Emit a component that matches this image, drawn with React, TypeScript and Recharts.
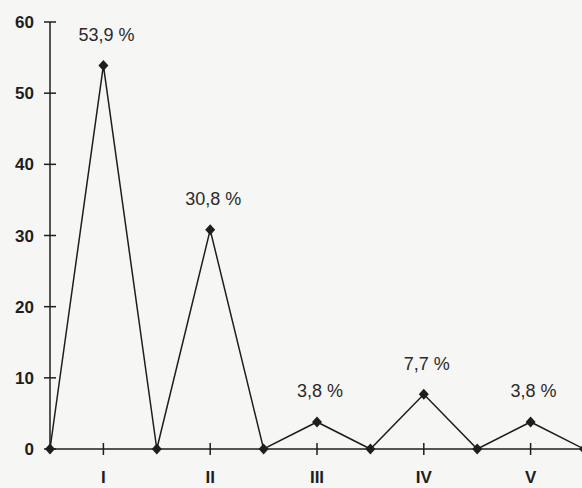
import React from 'react'
import { LineChart, Line, XAxis, YAxis, LabelList } from 'recharts'

// position on the axis (0..10): troughs at even steps, groups at odd steps
const positions = [0, 1, 2, 3, 4, 5, 6, 7, 8, 9, 10]
const shares    = [0, 53.9, 0, 30.8, 0, 3.8, 0, 7.7, 0, 3.8, 0]
const groups    = ['I', 'II', 'III', 'IV', 'V']
const groupTicks = [1, 3, 5, 7, 9]
const yTicks    = [0, 10, 20, 30, 40, 50, 60]

const data = positions.map((p, i) => ({ pos: p, share: shares[i] }))

const INK = '#1e1e1e'
const FONT = '"Liberation Sans", Arial, sans-serif'

const YTick = ({ x, y, payload }: any) => (
  <g>
    <line x1={x - 6} x2={x + 6} y1={y} y2={y} stroke={INK} strokeWidth={1.5} />
    <text x={x - 16} y={y} dy="0.36em" textAnchor="end" fontFamily={FONT}
      fontSize={17} fontWeight="bold" fill={INK}>{payload.value}</text>
  </g>
)

const XTick = ({ x, y, payload }: any) => (
  <g>
    <line x1={x} x2={x} y1={y - 6} y2={y + 6} stroke={INK} strokeWidth={1.5} />
    <text x={x} y={y + 28} dy="0.36em" textAnchor="middle" fontFamily={FONT}
      fontSize={17} fontWeight="bold" fill={INK}>
      {groups[groupTicks.indexOf(payload.value)]}
    </text>
  </g>
)

const Diamond = ({ cx, cy, index }: any) => (
  <path key={`d${index}`} d={`M${cx},${cy - 5.5}L${cx + 5},${cy}L${cx},${cy + 5.5}L${cx - 5},${cy}Z`} fill={INK} />
)

const PctLabel = ({ x, y, value }: any) =>
  value > 0 ? (
    <text x={x + 3} y={y - 31} dy="0.36em" textAnchor="middle" fontFamily={FONT}
      fontSize={18} fill="#2a2a2a">
      {`${value.toFixed(1).replace('.', ',')} %`}
    </text>
  ) : null

export default function App() {
  return (
    <div style={{ position: 'absolute', left: 0, top: 0, width: 582, height: 488, overflow: 'hidden', background: '#f6f6f4' }}>
      <LineChart width={600} height={488} data={data} margin={{ top: 22, right: 16, bottom: 0, left: 0 }}>
        <XAxis dataKey="pos" type="number" domain={[0, 10]} ticks={groupTicks} interval={0}
          height={39} tickSize={0} tickMargin={0} tick={<XTick />}
          axisLine={{ stroke: INK, strokeWidth: 1.5 }} tickLine={false} />
        <YAxis domain={[0, 60]} ticks={yTicks} width={50} tickSize={0} tickMargin={0}
          tick={<YTick />} axisLine={{ stroke: INK, strokeWidth: 1.5 }} tickLine={false} />
        <Line type="linear" dataKey="share" stroke={INK} strokeWidth={1.5}
          dot={<Diamond />} activeDot={false} isAnimationActive={false}>
          <LabelList dataKey="share" content={<PctLabel />} />
        </Line>
      </LineChart>
    </div>
  )
}
